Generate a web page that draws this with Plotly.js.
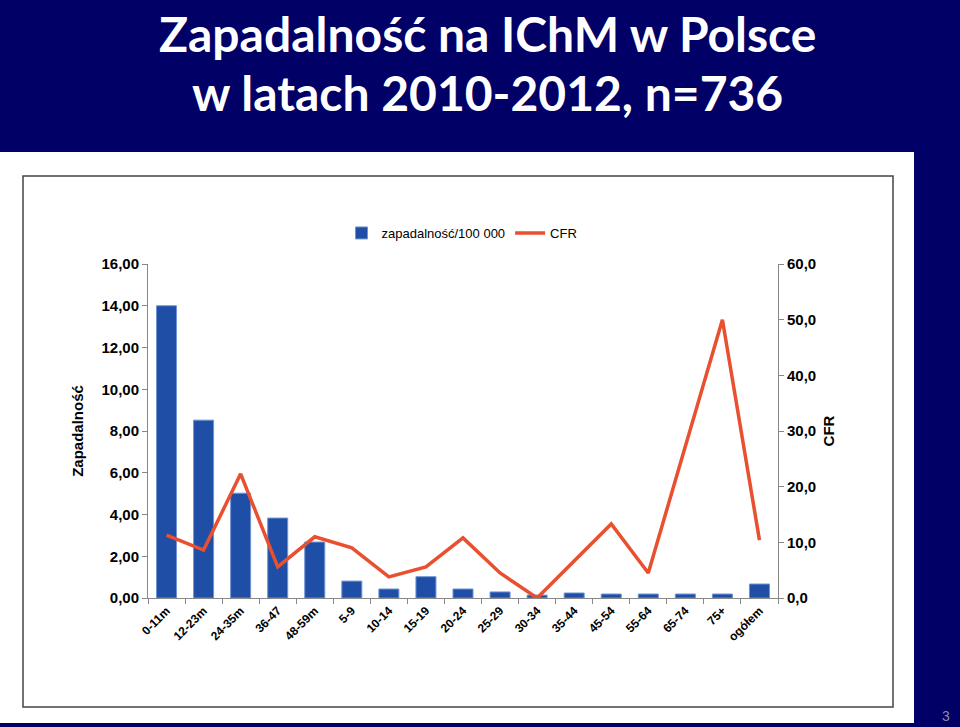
<!DOCTYPE html>
<html>
<head>
<meta charset="utf-8">
<script src="https://cdn.plot.ly/plotly-3.0.1.min.js"></script>
<style>html,body{margin:0;padding:0;background:#000066;}</style>
</head>
<body>
<div id="chart" style="width:960px;height:727px;"></div>
<script>
const categories = ["0-11m","12-23m","24-35m","36-47","48-59m","5-9","10-14","15-19","20-24","25-29","30-34","35-44","45-54","55-64","65-74","75+","ogółem"];
const incidence = [14.0, 8.52, 5.02, 3.83, 2.68, 0.81, 0.43, 1.02, 0.43, 0.29, 0.14, 0.24, 0.19, 0.19, 0.19, 0.19, 0.67];
const cfr = [11.3, 8.6, 22.3, 5.6, 11.0, 9.0, 3.8, 5.6, 10.8, 4.5, 0.0, 6.7, 13.3, 4.5, 27.0, 50.0, 10.4];
const leftTicks = [0, 2, 4, 6, 8, 10, 12, 14, 16];
const rightTicks = [0, 10, 20, 30, 40, 50, 60];

const font = "Liberation Sans, Arial, sans-serif";

const traces = [
  {
    type: "bar", name: "zapadalność/100 000", x: categories, y: incidence,
    marker: {color: "#1f4ea6", line: {color: "#6f93d6", width: 1}},
    yaxis: "y"
  },
  {
    type: "scatter", mode: "lines", name: "CFR", x: categories, y: cfr,
    line: {color: "#e8502f", width: 3.5},
    yaxis: "y2"
  }
];

const W = 630, H = 334, L = 148, T = 264;
const px = v => (v - L) / W;
const py = v => (T + H - v) / H;

const layout = {
  width: 960, height: 727,
  margin: {l: 148, r: 182, t: 264, b: 129},
  paper_bgcolor: "#000066",
  plot_bgcolor: "#ffffff",
  separators: ",.",
  bargap: 0.46,
  showlegend: true,
  legend: {
    orientation: "h", x: px(462), xanchor: "center", y: py(233), yanchor: "middle",
    font: {family: font, size: 13, color: "#000"}, bgcolor: "rgba(0,0,0,0)"
  },
  xaxis: {
    type: "category", tickangle: -45, ticks: "outside", tickson: "boundaries",
    ticklen: 5, tickcolor: "#888", showline: true, linecolor: "#888", linewidth: 1,
    tickfont: {family: font, size: 12, color: "#000", weight: "bold"},
    showgrid: false
  },
  yaxis: {
    range: [0, 16], tickvals: leftTicks, tickformat: ".2f",
    ticks: "outside", ticklen: 5, tickcolor: "#888",
    showline: true, linecolor: "#888", linewidth: 1, showgrid: false, zeroline: false,
    tickfont: {family: font, size: 15, color: "#000", weight: "bold"},
    title: {text: "Zapadalność", standoff: 14, font: {family: font, size: 15, color: "#000", weight: "bold"}}
  },
  yaxis2: {
    range: [0, 60], tickvals: rightTicks, tickformat: ".1f", overlaying: "y", side: "right",
    ticks: "outside", ticklen: 5, tickcolor: "#888",
    showline: true, linecolor: "#888", linewidth: 1, showgrid: false, zeroline: false,
    tickfont: {family: font, size: 15, color: "#000", weight: "bold"},
    title: {text: "CFR", standoff: 8, font: {family: font, size: 15, color: "#000", weight: "bold"}}
  },
  shapes: [
    {type: "rect", xref: "paper", yref: "paper", layer: "below",
     x0: px(0), x1: px(914), y0: py(723), y1: py(152),
     fillcolor: "#ffffff", line: {width: 0}},
    {type: "rect", xref: "paper", yref: "paper", layer: "below",
     x0: px(23), x1: px(893), y0: py(707), y1: py(176),
     fillcolor: "rgba(0,0,0,0)", line: {color: "#444", width: 1.5}}
  ],
  annotations: [
    {xref: "paper", yref: "paper", x: px(487), y: py(33), xanchor: "center", yanchor: "middle",
     text: "Zapadalność na IChM w Polsce", showarrow: false,
     font: {family: "Lato, sans-serif", size: 48, color: "#fff", weight: "bold"}},
    {xref: "paper", yref: "paper", x: px(487), y: py(93), xanchor: "center", yanchor: "middle",
     text: "w latach 2010-2012, n=736", showarrow: false,
     font: {family: "Lato, sans-serif", size: 48, color: "#fff", weight: "bold"}},
    {xref: "paper", yref: "paper", x: px(946), y: py(716), xanchor: "center", yanchor: "middle",
     text: "3", showarrow: false,
     font: {family: font, size: 14, color: "#8a8aa8"}}
  ]
};

Plotly.newPlot("chart", traces, layout, {displayModeBar: false, staticPlot: true});
</script>
</body>
</html>
